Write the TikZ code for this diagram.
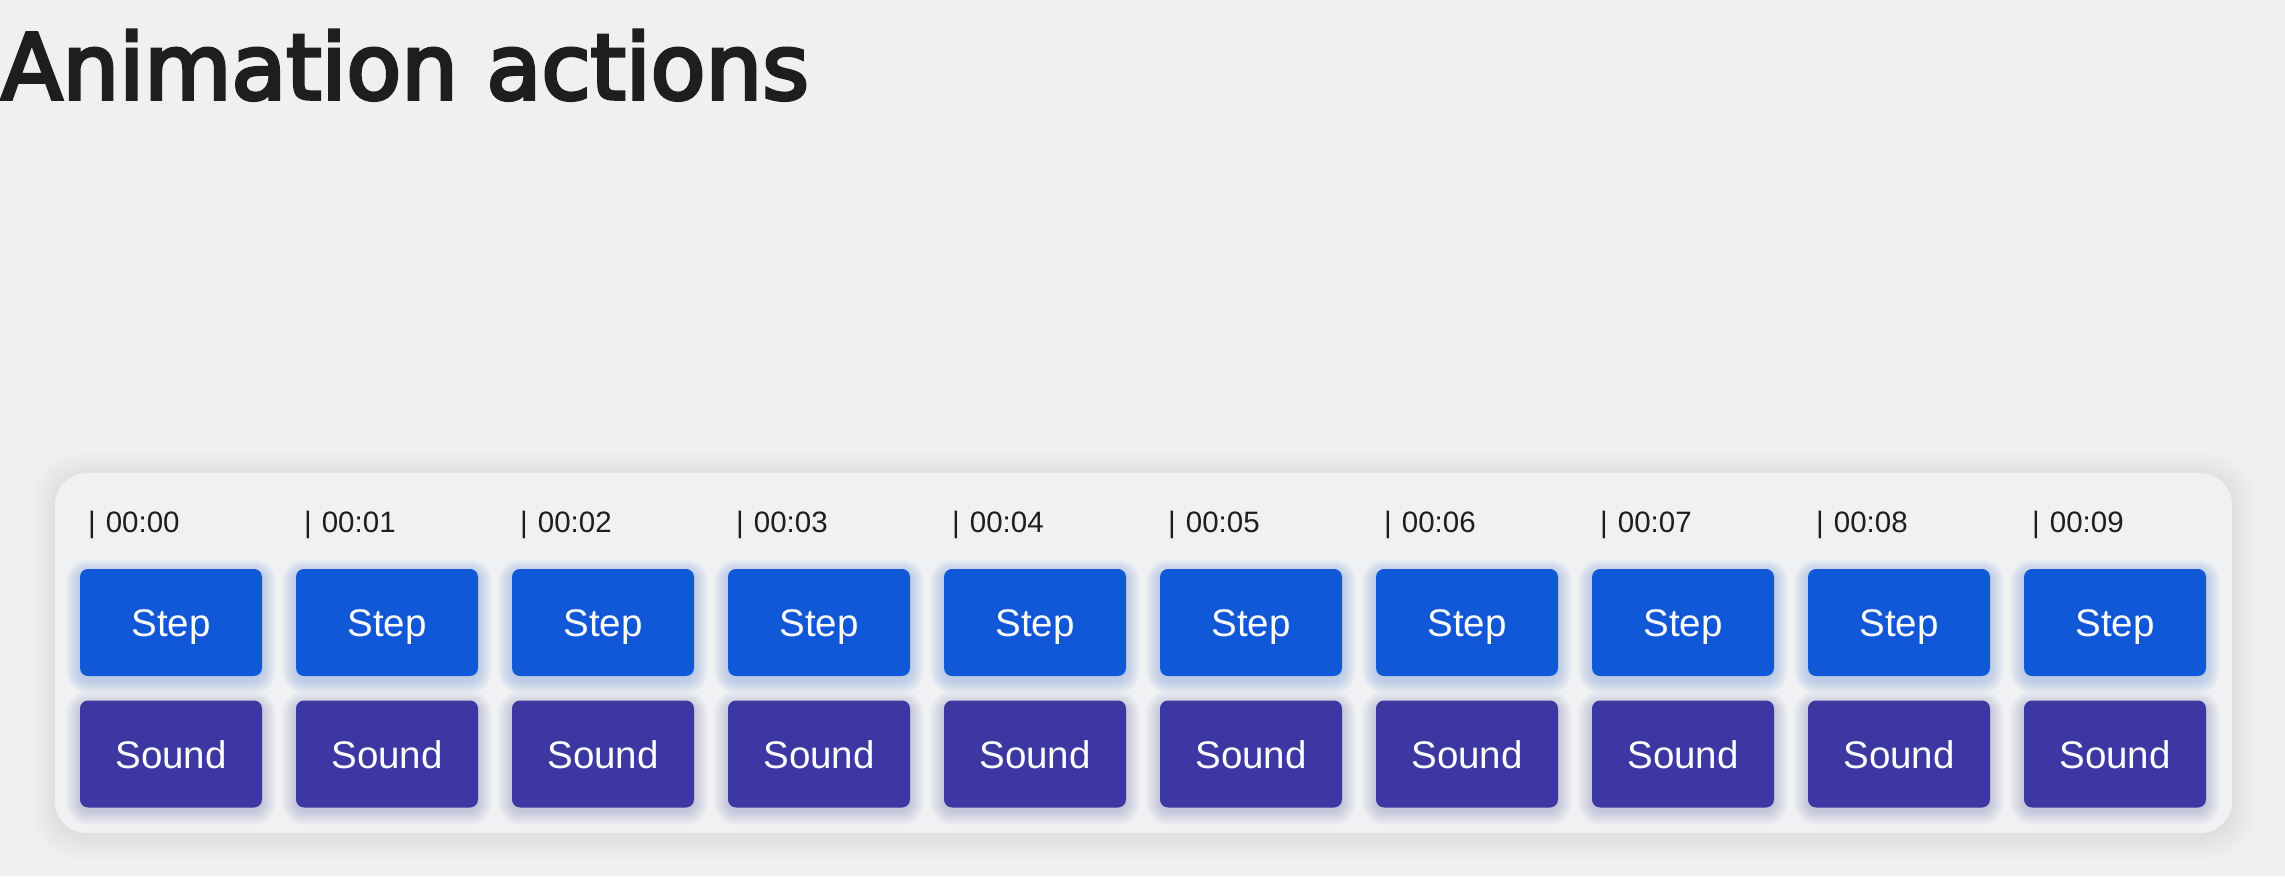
\documentclass[tikz,border=0pt]{standalone}
\usepackage{graphicx}
\usepackage{fontspec}
\setmainfont{Liberation Sans}
\newfontfamily\titlefont[FakeBold=4]{DejaVu Sans}
\definecolor{bg}{HTML}{EFF0F2}
\definecolor{panelc}{HTML}{F0F1F3}
\definecolor{stepc}{HTML}{1158D9}
\definecolor{soundc}{HTML}{3C37A1}
\definecolor{ink}{HTML}{1D1E20}
\tikzset{
  btn/.style={minimum width=182pt, minimum height=107pt, rounded corners=8pt, inner sep=0pt, text=white, text height=28pt, text depth=0pt, font=\fontsize{38.5}{38.5}\selectfont},
  stepbox/.style={btn, fill=stepc},
  soundbox/.style={btn, fill=soundc},
  timelabel/.style={anchor=base west, inner sep=0pt, text=ink, font=\fontsize{29.5}{29.5}\selectfont},
  panelbox/.style={minimum width=2177pt, minimum height=360pt, rounded corners=32pt, fill=panelc, inner sep=0pt}
}
\begin{document}
\begin{tikzpicture}[x=1pt,y=-1pt]
\fill[bg] (0,0) rectangle (2285,876);
\useasboundingbox (0,0) rectangle (2285,876);
% title
\node[anchor=base west, inner sep=0pt, text=ink, font=\fontsize{90.5}{90.5}\titlefont] (title) at (1,99) {\scalebox{0.99}[1]{Animation actions}};
% panel shadow
\foreach \k in {1,...,16}{
  \fill[black, opacity=0.004, rounded corners=32+\k] (55-\k*1.5, 473-\k*1.5+3) rectangle (2232+\k*1.5, 833+\k*1.5+3);
}
\node[panelbox] (panel) at (1143.5,653) {};
% glows
\foreach \i in {0,...,9}{
  \pgfmathsetmacro\xl{80+216*\i}
  \foreach \k in {1,...,14}{
    \fill[stepc, opacity=0.016, rounded corners=8+\k] (\xl-\k, 569-\k+4) rectangle (\xl+182+\k, 676+\k+4);
    \fill[soundc, opacity=0.016, rounded corners=8+\k] (\xl-\k, 701-\k+4) rectangle (\xl+182+\k, 807+\k+4);
  }
}
% buttons and labels
\foreach \i in {0,...,9}{
  \node[timelabel] (t\i) at (88+216*\i, 532) {|\hspace{10pt}00:0\i};
  \node[stepbox] (s\i) at (171+216*\i, 622.5) {Step};
  \node[soundbox] (d\i) at (171+216*\i, 754) {Sound};
}
\end{tikzpicture}
\end{document}
